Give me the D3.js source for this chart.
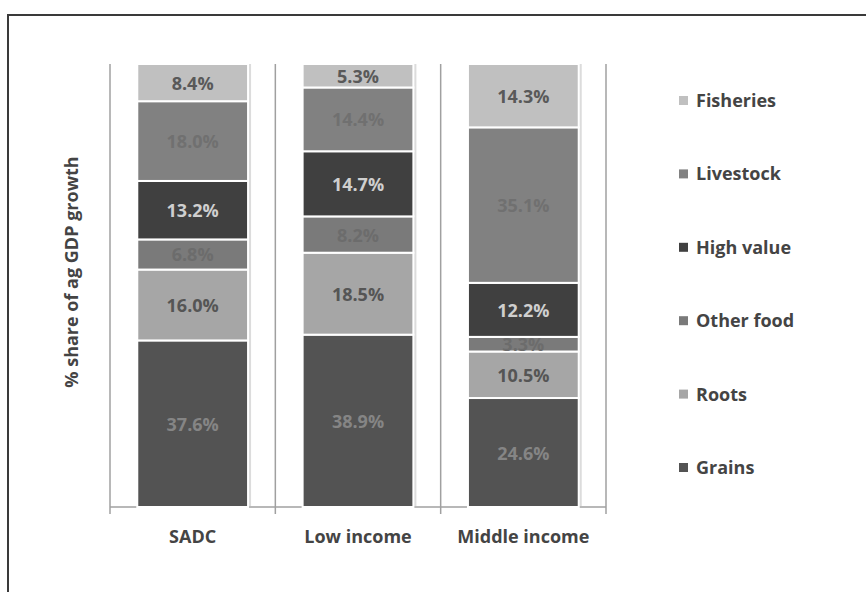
<!DOCTYPE html>
<html>
<head>
<meta charset="utf-8">
<script src="https://cdn.jsdelivr.net/npm/d3@7"></script>
<style>
  html, body { margin: 0; padding: 0; background: #fff; }
  svg { display: block; font-family: "Open Sans", Lato, sans-serif; }
</style>
</head>
<body>
<svg id="chart" width="866" height="592"></svg>
<script>
// Regions on the x axis
const categories = ["SADC", "Low income", "Middle income"];

// Components of agricultural GDP growth, bottom to top (% share)
const seriesNames = ["Grains", "Roots", "Other food", "High value", "Livestock", "Fisheries"];
const grains    = [37.6, 38.9, 24.6];
const roots     = [16.0, 18.5, 10.5];
const otherFood = [6.8, 8.2, 3.3];
const highValue = [13.2, 14.7, 12.2];
const livestock = [18.0, 14.4, 35.1];
const fisheries = [8.4, 5.3, 14.3];

const seriesValues = [grains, roots, otherFood, highValue, livestock, fisheries];

// Fill and label colours per series
const fills = {
  "Grains": "#535353", "Roots": "#a6a6a6", "Other food": "#7a7a7a",
  "High value": "#404040", "Livestock": "#818181", "Fisheries": "#c0c0c0"
};
const labelColors = {
  "Grains": "#858585", "Roots": "#555555", "Other food": "#6c6c6c",
  "High value": "#cfcfcf", "Livestock": "#707070", "Fisheries": "#595959"
};

const svg = d3.select("#chart");

// Outer frame (top and left edges visible)
svg.append("line").attr("x1", 8).attr("x2", 866).attr("y1", 15).attr("y2", 15)
  .attr("stroke", "#3a3a3a").attr("stroke-width", 2);
svg.append("line").attr("x1", 8).attr("x2", 8).attr("y1", 14).attr("y2", 592)
  .attr("stroke", "#3a3a3a").attr("stroke-width", 2);

const plot = { left: 110, right: 606, top: 64, bottom: 507 };

const x = d3.scaleBand().domain(categories)
  .range([plot.left, plot.right]).paddingInner(0.33).paddingOuter(0.165);
const y = d3.scaleLinear().domain([0, 100]).range([plot.bottom, plot.top]);

// Build stacked table
const table = categories.map((c, i) => {
  const row = { category: c };
  seriesNames.forEach((s, j) => { row[s] = seriesValues[j][i]; });
  return row;
});
const stacked = d3.stack().keys(seriesNames)(table);

// Category separators and baseline
const sepX = d3.range(categories.length + 1).map(i => plot.left + i * (plot.right - plot.left) / categories.length);
svg.append("g").selectAll("line").data(sepX).join("line")
  .attr("x1", d => d).attr("x2", d => d)
  .attr("y1", plot.top).attr("y2", plot.bottom + 7)
  .attr("stroke", "#a0a0a0").attr("stroke-width", 1.5);
svg.append("line").attr("x1", plot.left).attr("x2", plot.right)
  .attr("y1", plot.bottom).attr("y2", plot.bottom)
  .attr("stroke", "#a0a0a0").attr("stroke-width", 1.5);

// Soft shadow to the right of each bar
svg.append("g").selectAll("rect").data(categories).join("rect")
  .attr("x", d => x(d) + x.bandwidth())
  .attr("width", 3)
  .attr("y", y(100))
  .attr("height", y(0) - y(100) - 1)
  .attr("fill", "#dcdcdc");

// Bars
const layers = svg.append("g").selectAll("g").data(stacked).join("g")
  .attr("fill", d => fills[d.key]);
layers.selectAll("rect").data(d => d).join("rect")
  .attr("x", d => x(d.data.category))
  .attr("width", x.bandwidth())
  .attr("y", d => y(d[1]))
  .attr("height", d => y(d[0]) - y(d[1]))
  .attr("stroke", "#fff").attr("stroke-width", 2);

// Value labels
const labels = svg.append("g").selectAll("g").data(stacked).join("g")
  .attr("fill", d => labelColors[d.key]);
labels.selectAll("text").data(d => d).join("text")
  .attr("x", d => x(d.data.category) + x.bandwidth() / 2)
  .attr("y", d => (y(d[0]) + y(d[1])) / 2)
  .attr("text-anchor", "middle").attr("dominant-baseline", "central")
  .attr("font-size", 18).attr("font-weight", "bold")
  .text(d => (d[1] - d[0]).toFixed(1) + "%");

// Category labels
svg.append("g").selectAll("text").data(categories).join("text")
  .attr("x", d => x(d) + x.bandwidth() / 2)
  .attr("y", 536)
  .attr("text-anchor", "middle").attr("dominant-baseline", "central")
  .attr("font-size", 18).attr("font-weight", "bold").attr("fill", "#444")
  .text(d => d);

// Y axis title
svg.append("text")
  .attr("transform", "translate(71,272) rotate(-90)")
  .attr("text-anchor", "middle").attr("dominant-baseline", "central")
  .attr("font-size", 18).attr("font-weight", "bold").attr("fill", "#444")
  .text("% share of ag GDP growth");

// Legend (top to bottom: reverse of stacking order)
const legendNames = seriesNames.slice().reverse();
const ly = d3.scalePoint().domain(legendNames).range([100, 467]);
const legend = svg.append("g").selectAll("g").data(legendNames).join("g")
  .attr("transform", d => `translate(679,${ly(d)})`);
legend.append("rect").attr("x", 0).attr("y", -4).attr("width", 9).attr("height", 9)
  .attr("fill", d => fills[d]);
legend.append("text").attr("x", 17).attr("y", 0)
  .attr("dominant-baseline", "central")
  .attr("font-size", 18).attr("font-weight", "bold").attr("fill", "#444")
  .text(d => d);
</script>
</body>
</html>
